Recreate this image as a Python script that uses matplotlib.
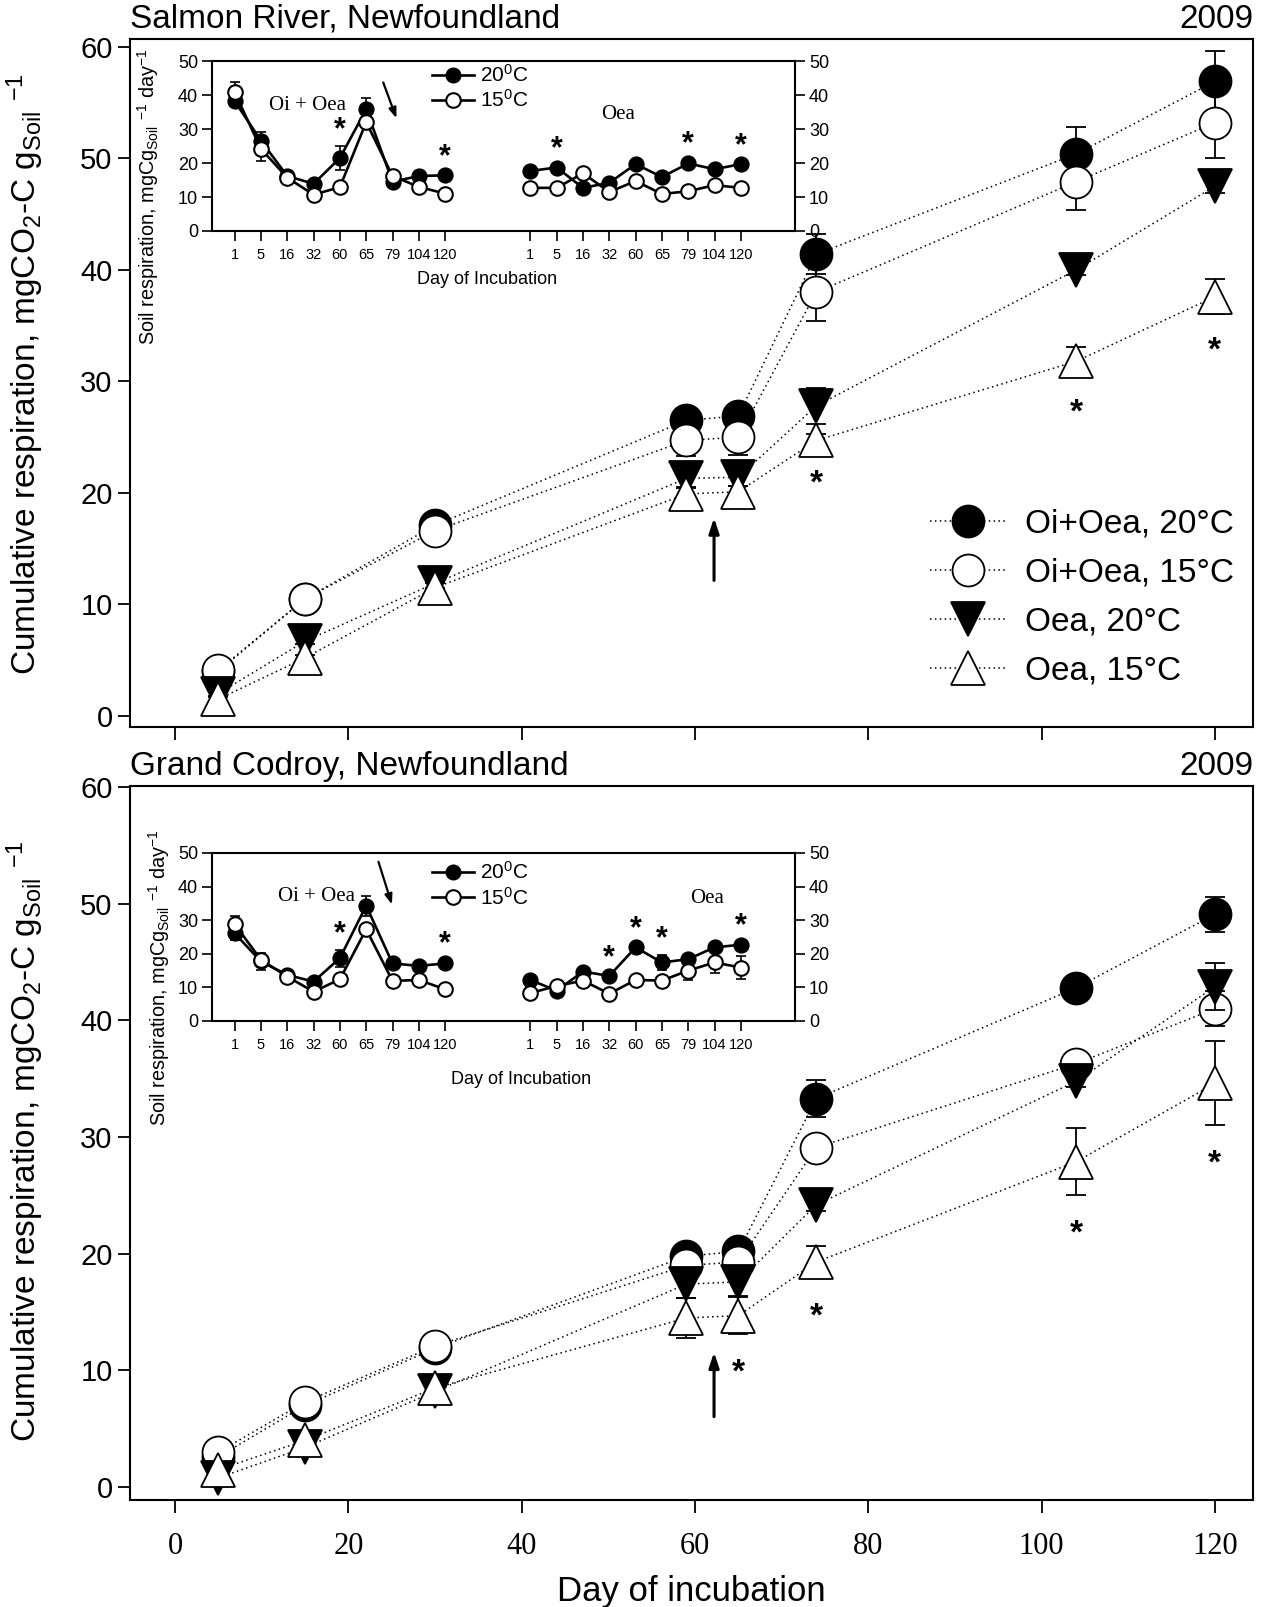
import matplotlib
matplotlib.use('Agg')
import matplotlib.pyplot as plt
import matplotlib.font_manager as fm
from matplotlib.lines import Line2D
import numpy as np

avail = {f.name for f in fm.fontManager.ttflist}
SANS = 'Liberation Sans' if 'Liberation Sans' in avail else 'DejaVu Sans'
NARROW = 'Liberation Sans Narrow' if 'Liberation Sans Narrow' in avail else SANS
SERIF = 'Liberation Serif' if 'Liberation Serif' in avail else 'DejaVu Serif'
plt.rcParams['font.family'] = [SANS, 'DejaVu Sans']
plt.rcParams['mathtext.fontset'] = 'custom'
plt.rcParams['mathtext.rm'] = SANS
plt.rcParams['mathtext.it'] = SANS
plt.rcParams['mathtext.bf'] = SANS

# ---------------- data: main panels ----------------
days = [5, 15, 30, 59, 65, 74, 104, 120]
series_labels = ['Oi+Oea, 20°C', 'Oi+Oea, 15°C', 'Oea, 20°C', 'Oea, 15°C']

sr_oi20 = [4.0, 10.5, 17.1, 26.5, 26.9, 41.4, 50.4, 56.9]
sr_oi20_err = [0.3, 0.3, 0.4, 0.5, 0.5, 1.8, 2.4, 2.7]
sr_oi15 = [4.1, 10.5, 16.6, 24.7, 25.0, 38.0, 47.9, 53.2]
sr_oi15_err = [0.3, 0.3, 0.4, 1.4, 1.6, 2.6, 2.5, 3.2]
sr_oea20 = [2.0, 6.7, 11.9, 21.3, 21.4, 27.8, 40.0, 47.5]
sr_oea20_err = [0.2, 0.3, 0.4, 0.8, 0.8, 1.6, 0.5, 0.6]
sr_oea15 = [1.5, 5.2, 11.5, 19.9, 20.1, 24.7, 31.8, 37.6]
sr_oea15_err = [0.2, 0.3, 0.4, 0.5, 0.5, 0.6, 1.3, 1.6]
sr_star_days = [74, 104, 120]

gc_oi20 = [2.6, 7.0, 11.9, 19.8, 20.2, 33.3, 42.8, 49.1]
gc_oi20_err = [0.3, 0.4, 0.4, 0.6, 0.6, 1.6, 0.5, 1.5]
gc_oi15 = [3.0, 7.3, 12.1, 19.0, 19.3, 29.1, 36.3, 41.0]
gc_oi15_err = [0.3, 0.4, 0.4, 1.2, 1.2, 0.8, 1.0, 1.5]
gc_oea20 = [0.8, 3.4, 8.2, 17.4, 17.6, 24.2, 34.8, 42.9]
gc_oea20_err = [0.2, 0.3, 0.4, 1.2, 1.2, 0.5, 0.5, 2.0]
gc_oea15 = [1.5, 4.0, 8.5, 14.5, 14.7, 19.3, 27.9, 34.6]
gc_oea15_err = [0.2, 0.3, 0.4, 1.7, 1.6, 1.4, 2.9, 3.6]
gc_star_days = [65, 74, 104, 120]

arrow_day = 62.2
sr_arrow = [11.9, 18.0]
gc_arrow = [5.8, 11.8]

# ---------------- data: insets ----------------
inset_days = ['1', '5', '16', '32', '60', '65', '79', '104', '120']

sr_in_oi20 = [38.3, 26.6, 16.2, 13.9, 21.5, 35.9, 14.5, 16.2, 16.4]
sr_in_oi20_err = [0.8, 2.5, 0.8, 0.8, 3.5, 3.2, 0.8, 0.8, 0.8]
sr_in_oi15 = [40.9, 24.2, 15.7, 10.7, 12.9, 32.1, 16.2, 13.0, 11.0]
sr_in_oi15_err = [3.0, 3.7, 0.8, 0.8, 0.8, 0.8, 0.8, 0.8, 0.8]
sr_in_oea20 = [17.7, 18.7, 12.7, 14.2, 19.7, 15.9, 19.9, 18.2, 19.7]
sr_in_oea20_err = [0.8, 0.8, 0.8, 0.8, 0.8, 0.8, 1.0, 0.8, 0.8]
sr_in_oea15 = [12.7, 12.7, 17.0, 11.5, 14.7, 10.9, 11.7, 13.5, 12.7]
sr_in_oea15_err = [0.8, 0.8, 0.8, 0.8, 0.8, 0.8, 0.8, 0.8, 0.8]
sr_in_star_oi = [4, 8]
sr_in_star_oea = [1, 6, 8]

gc_in_oi20 = [26.1, 17.7, 13.7, 11.7, 18.7, 34.3, 17.1, 16.4, 17.1]
gc_in_oi20_err = [2.0, 2.5, 0.8, 0.8, 2.5, 3.0, 0.8, 0.8, 1.0]
gc_in_oi15 = [28.8, 18.2, 13.2, 8.7, 12.4, 27.3, 11.9, 12.2, 9.4]
gc_in_oi15_err = [2.3, 0.8, 0.8, 0.8, 0.8, 0.8, 0.8, 0.8, 1.5]
gc_in_oea20 = [12.2, 9.0, 14.7, 13.4, 21.9, 17.4, 18.4, 21.9, 22.7]
gc_in_oea20_err = [0.8, 0.8, 0.8, 0.8, 0.8, 2.3, 0.8, 1.3, 1.0]
gc_in_oea15 = [8.3, 10.4, 12.0, 8.1, 12.2, 12.0, 15.0, 17.4, 15.9]
gc_in_oea15_err = [0.8, 0.8, 0.8, 0.8, 0.8, 0.8, 2.8, 3.0, 3.5]
gc_in_star_oi = [4, 8]
gc_in_star_oea = [3, 4, 5, 8]

# ---------------- figure ----------------
fig = plt.figure(figsize=(12.62, 16.07), dpi=100)
ax1 = fig.add_axes([0.1030, 0.5476, 0.8899, 0.4281])
ax2 = fig.add_axes([0.1030, 0.0666, 0.8899, 0.4443])
ins1 = fig.add_axes([0.168, 0.8563, 0.462, 0.1055])
ins2 = fig.add_axes([0.168, 0.3647, 0.462, 0.1045])

styles = [
    dict(marker='o', mfc='black', ms=23),
    dict(marker='o', mfc='white', ms=23),
    dict(marker='v', mfc='black', ms=25),
    dict(marker='^', mfc='white', ms=25),
]


def main_panel(ax, vals, errs, star_days, arrow, title, ylim):
    handles = []
    for i, (v, e, st) in enumerate(zip(vals, errs, styles)):
        z = 3 + i * 2
        ax.errorbar(days, v, yerr=e, fmt='none', ecolor='black', elinewidth=1.3,
                    capsize=7, capthick=1.3, zorder=z)
        ln, = ax.plot(days, v, linestyle=(0, (1, 2.2)), color='black', lw=1.1,
                      marker=st['marker'], ms=st['ms'], mfc=st['mfc'],
                      mec='black', mew=1.3, zorder=z + 1, label=series_labels[i])
        handles.append(ln)
    low_v = np.array(vals[3]) - np.array(errs[3])
    for d in star_days:
        k = days.index(d)
        ax.text(d, low_v[k] - 3.3, '*', ha='center', va='center', fontsize=24,
                fontweight='bold', zorder=20)
    ax.annotate('', xy=(arrow_day, arrow[1]), xytext=(arrow_day, arrow[0]),
                arrowprops=dict(arrowstyle='-|>,head_length=0.9,head_width=0.3',
                                color='black', lw=2.2), zorder=20)
    ax.set_xlim(-5.2, 124.4)
    ax.set_ylim(*ylim)
    ax.set_yticks([0, 10, 20, 30, 40, 50, 60])
    ax.set_xticks([0, 20, 40, 60, 80, 100, 120])
    ax.tick_params(axis='both', direction='out', length=9, width=1.3, labelsize=21)
    for sp in ax.spines.values():
        sp.set_linewidth(1.5)
    ax.set_ylabel('Cumulative respiration, mgCO$_2$-C g$_{\\mathregular{Soil}}$ $^{-1}$',
                  fontsize=24)
    ax.text(0.0, 1.006, title, transform=ax.transAxes, ha='left', va='bottom',
            fontsize=24)
    ax.text(1.0, 1.006, '2009', transform=ax.transAxes, ha='right', va='bottom',
            fontsize=24)
    return handles


h = main_panel(ax1, [sr_oi20, sr_oi15, sr_oea20, sr_oea15],
               [sr_oi20_err, sr_oi15_err, sr_oea20_err, sr_oea15_err],
               sr_star_days, sr_arrow, 'Salmon River, Newfoundland', (-1.0, 60.7))
ax1.set_xticklabels([])
ax1.yaxis.set_label_coords(-0.075, 0.513)

main_panel(ax2, [gc_oi20, gc_oi15, gc_oea20, gc_oea15],
           [gc_oi20_err, gc_oi15_err, gc_oea20_err, gc_oea15_err],
           gc_star_days, gc_arrow, 'Grand Codroy, Newfoundland', (-1.1, 60.1))
for lab in ax2.get_xticklabels():
    lab.set_fontfamily(SERIF)
    lab.set_fontsize(22)
ax2.tick_params(axis='x', pad=14)
ax2.set_xlabel('Day of incubation', fontsize=25, labelpad=10)
ax2.yaxis.set_label_coords(-0.075, 0.503)

leg = ax1.legend(handles=h, loc='upper left', bbox_to_anchor=(0.712, 0.318),
                 frameon=False, fontsize=24, handlelength=2.3, handletextpad=0.55,
                 labelspacing=0.54, borderpad=0, borderaxespad=0)

# ---------------- insets ----------------
pos1 = np.arange(9)
pos2 = np.arange(9) + 11.24


def inset(ax, oi20, oi20e, oi15, oi15e, oea20, oea20e, oea15, oea15e,
          star_oi, star_oea, oi_xy, oea_xy, arrow_xy, leg_anchor, xlab_y,
          xlab_x, ylab_xy):
    for pos, v20, e20, v15, e15 in [(pos1, oi20, oi20e, oi15, oi15e),
                                     (pos2, oea20, oea20e, oea15, oea15e)]:
        ax.errorbar(pos, v20, yerr=e20, fmt='none', ecolor='black', elinewidth=1.2,
                    capsize=3.5, capthick=1.2, zorder=2)
        ax.plot(pos, v20, '-', color='black', lw=1.9, marker='o', ms=10.5,
                mfc='black', mec='black', mew=1.2, zorder=3)
        ax.errorbar(pos, v15, yerr=e15, fmt='none', ecolor='black', elinewidth=1.2,
                    capsize=3.5, capthick=1.2, zorder=4)
        ax.plot(pos, v15, '-', color='black', lw=1.9, marker='o', ms=10.5,
                mfc='white', mec='black', mew=1.5, zorder=5)
    top_oi = np.maximum(np.array(oi20) + np.array(oi20e), np.array(oi15) + np.array(oi15e))
    top_oea = np.maximum(np.array(oea20) + np.array(oea20e), np.array(oea15) + np.array(oea15e))
    for k in star_oi:
        ax.text(pos1[k], top_oi[k] + 4.6, '*', ha='center', va='center',
                fontsize=22, fontweight='bold')
    for k in star_oea:
        ax.text(pos2[k], top_oea[k] + 4.6, '*', ha='center', va='center',
                fontsize=22, fontweight='bold')
    ax.set_xlim(-0.86, 21.3)
    ax.set_ylim(0, 50)
    ax.set_yticks([0, 10, 20, 30, 40, 50])
    ax.set_xticks(np.concatenate([pos1, pos2]))
    ax.set_xticklabels(inset_days * 2, fontfamily=NARROW,
                       fontsize=12 if NARROW != SANS else 10.5)
    ax.tick_params(axis='both', direction='out', length=7, width=1.2)
    ax.tick_params(axis='y', labelsize=13, right=True, labelright=True, pad=3)
    ax.tick_params(axis='x', pad=5)
    for sp in ax.spines.values():
        sp.set_linewidth(1.5)
    ax.set_xlabel('Day of Incubation', fontsize=13, fontfamily=NARROW)
    ax.xaxis.set_label_coords(xlab_x, xlab_y)
    ax.set_ylabel('Soil respiration, mgCg$_{\\mathregular{Soil}}$ $^{-1}$ day$^{-1}$',
                  fontsize=14.3)
    ax.yaxis.set_label_coords(*ylab_xy)
    ax.text(*oi_xy, 'Oi + Oea', transform=ax.transAxes, fontfamily=SERIF,
            fontsize=15, ha='center', va='center')
    ax.text(*oea_xy, 'Oea', transform=ax.transAxes, fontfamily=SERIF,
            fontsize=15, ha='center', va='center')
    ax.annotate('', xy=arrow_xy[1], xytext=arrow_xy[0], xycoords='axes fraction',
                textcoords='axes fraction',
                arrowprops=dict(arrowstyle='-|>,head_length=0.6,head_width=0.22',
                                color='black', lw=1.6))
    hl = [Line2D([], [], color='black', lw=1.9, marker='o', ms=10.5, mfc='black',
                 mec='black'),
          Line2D([], [], color='black', lw=1.9, marker='o', ms=10.5, mfc='white',
                 mec='black', mew=1.5)]
    ax.legend(hl, ['20$^0$C', '15$^0$C'], loc='upper left', bbox_to_anchor=leg_anchor,
              frameon=False, fontsize=15, handlelength=2.0, handletextpad=0.3,
              labelspacing=0.15, borderpad=0, borderaxespad=0)


inset(ins1, sr_in_oi20, sr_in_oi20_err, sr_in_oi15, sr_in_oi15_err,
      sr_in_oea20, sr_in_oea20_err, sr_in_oea15, sr_in_oea15_err,
      sr_in_star_oi, sr_in_star_oea,
      oi_xy=(0.164, 0.74), oea_xy=(0.697, 0.686),
      arrow_xy=((0.292, 0.891), (0.318, 0.649)), leg_anchor=(0.378, 0.985),
      xlab_y=-0.234, xlab_x=0.472, ylab_xy=(-0.088, 0.2))
inset(ins2, gc_in_oi20, gc_in_oi20_err, gc_in_oi15, gc_in_oi15_err,
      gc_in_oea20, gc_in_oea20_err, gc_in_oea15, gc_in_oea15_err,
      gc_in_star_oi, gc_in_star_oea,
      oi_xy=(0.18, 0.738), oea_xy=(0.849, 0.732),
      arrow_xy=((0.284, 0.964), (0.31, 0.677)), leg_anchor=(0.378, 0.95),
      xlab_y=-0.298, xlab_x=0.53, ylab_xy=(-0.068, 0.256))

fig.savefig('out.png', dpi=100)
